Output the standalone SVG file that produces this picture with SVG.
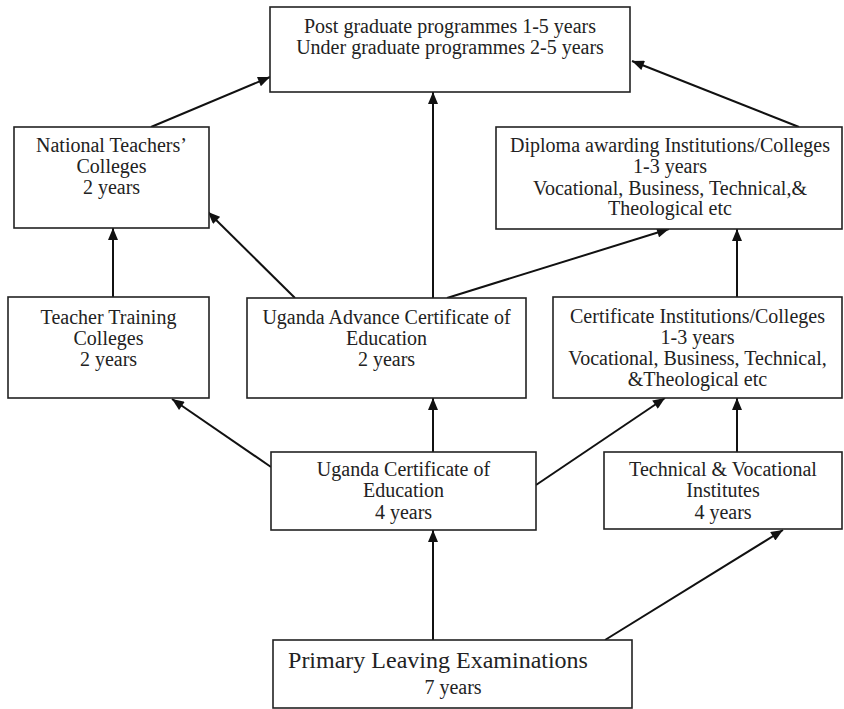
<svg xmlns="http://www.w3.org/2000/svg" width="844" height="709" viewBox="0 0 844 709">
<defs>
<style>
.box{fill:#fff;stroke:#222;stroke-width:1.6}
.t{font-family:"Liberation Serif","Times New Roman",serif;font-size:20px;fill:#222;text-anchor:middle}
.big{font-size:24px}
.c{fill:none;stroke:#111;stroke-width:2}
</style>
<marker id="ah" viewBox="0 0 12 10" refX="12" refY="5" markerWidth="13" markerHeight="10" markerUnits="userSpaceOnUse" orient="auto">
<path d="M0,0 L12,5 L0,10 z" fill="#111"/>
</marker>
</defs>
<rect width="844" height="709" fill="#fff"/>
<g id="connectors">
<line class="c" x1="151" y1="127" x2="270" y2="77" marker-end="url(#ah)"/>
<line class="c" x1="433" y1="298" x2="433" y2="92" marker-end="url(#ah)"/>
<line class="c" x1="799" y1="127" x2="632" y2="61" marker-end="url(#ah)"/>
<line class="c" x1="295" y1="298" x2="208" y2="212" marker-end="url(#ah)"/>
<line class="c" x1="447" y1="298" x2="669" y2="229" marker-end="url(#ah)"/>
<line class="c" x1="113" y1="297" x2="113" y2="228" marker-end="url(#ah)"/>
<line class="c" x1="737" y1="297" x2="737" y2="229" marker-end="url(#ah)"/>
<line class="c" x1="271" y1="467" x2="172" y2="399" marker-end="url(#ah)"/>
<line class="c" x1="433" y1="452" x2="433" y2="398" marker-end="url(#ah)"/>
<line class="c" x1="536" y1="485" x2="665" y2="398" marker-end="url(#ah)"/>
<line class="c" x1="737" y1="452" x2="737" y2="398" marker-end="url(#ah)"/>
<line class="c" x1="433" y1="640" x2="433" y2="530" marker-end="url(#ah)"/>
<line class="c" x1="605" y1="640" x2="783" y2="530" marker-end="url(#ah)"/>
</g>
<g id="top">
<rect class="box" x="270" y="7" width="360" height="85"/>
<text class="t" x="450" y="33">Post graduate programmes 1-5 years</text>
<text class="t" x="450" y="54">Under graduate programmes 2-5 years</text>
</g>
<g id="ntc">
<rect class="box" x="14" y="127" width="195" height="101"/>
<text class="t" x="111.5" y="152">National Teachers’</text>
<text class="t" x="111.5" y="173">Colleges</text>
<text class="t" x="111.5" y="194">2 years</text>
</g>
<g id="diploma">
<rect class="box" x="496" y="127" width="346" height="102"/>
<text class="t" x="670" y="152">Diploma awarding Institutions/Colleges</text>
<text class="t" x="670" y="173">1-3 years</text>
<text class="t" x="670" y="195">Vocational, Business, Technical,&amp;</text>
<text class="t" x="670" y="215">Theological etc</text>
</g>
<g id="ttc">
<rect class="box" x="8" y="297" width="201" height="101"/>
<text class="t" x="108.5" y="324">Teacher Training</text>
<text class="t" x="108.5" y="345">Colleges</text>
<text class="t" x="108.5" y="366">2 years</text>
</g>
<g id="uace">
<rect class="box" x="247" y="298" width="279" height="100"/>
<text class="t" x="386.5" y="324">Uganda Advance Certificate of</text>
<text class="t" x="386.5" y="345">Education</text>
<text class="t" x="386.5" y="366">2 years</text>
</g>
<g id="cert">
<rect class="box" x="553" y="297" width="289" height="101"/>
<text class="t" x="697.5" y="323">Certificate Institutions/Colleges</text>
<text class="t" x="697.5" y="344">1-3 years</text>
<text class="t" x="697.5" y="365">Vocational, Business, Technical,</text>
<text class="t" x="697.5" y="386">&amp;Theological etc</text>
</g>
<g id="uce">
<rect class="box" x="271" y="452" width="265" height="78"/>
<text class="t" x="403.5" y="476">Uganda Certificate of</text>
<text class="t" x="403.5" y="497">Education</text>
<text class="t" x="403.5" y="519">4 years</text>
</g>
<g id="tvi">
<rect class="box" x="604" y="452" width="238" height="77"/>
<text class="t" x="723" y="476">Technical &amp; Vocational</text>
<text class="t" x="723" y="497">Institutes</text>
<text class="t" x="723" y="519">4 years</text>
</g>
<g id="ple">
<rect class="box" x="273" y="640" width="359" height="68"/>
<text class="t big" x="438" y="668">Primary Leaving Examinations</text>
<text class="t" x="453" y="694">7 years</text>
</g>
</svg>
